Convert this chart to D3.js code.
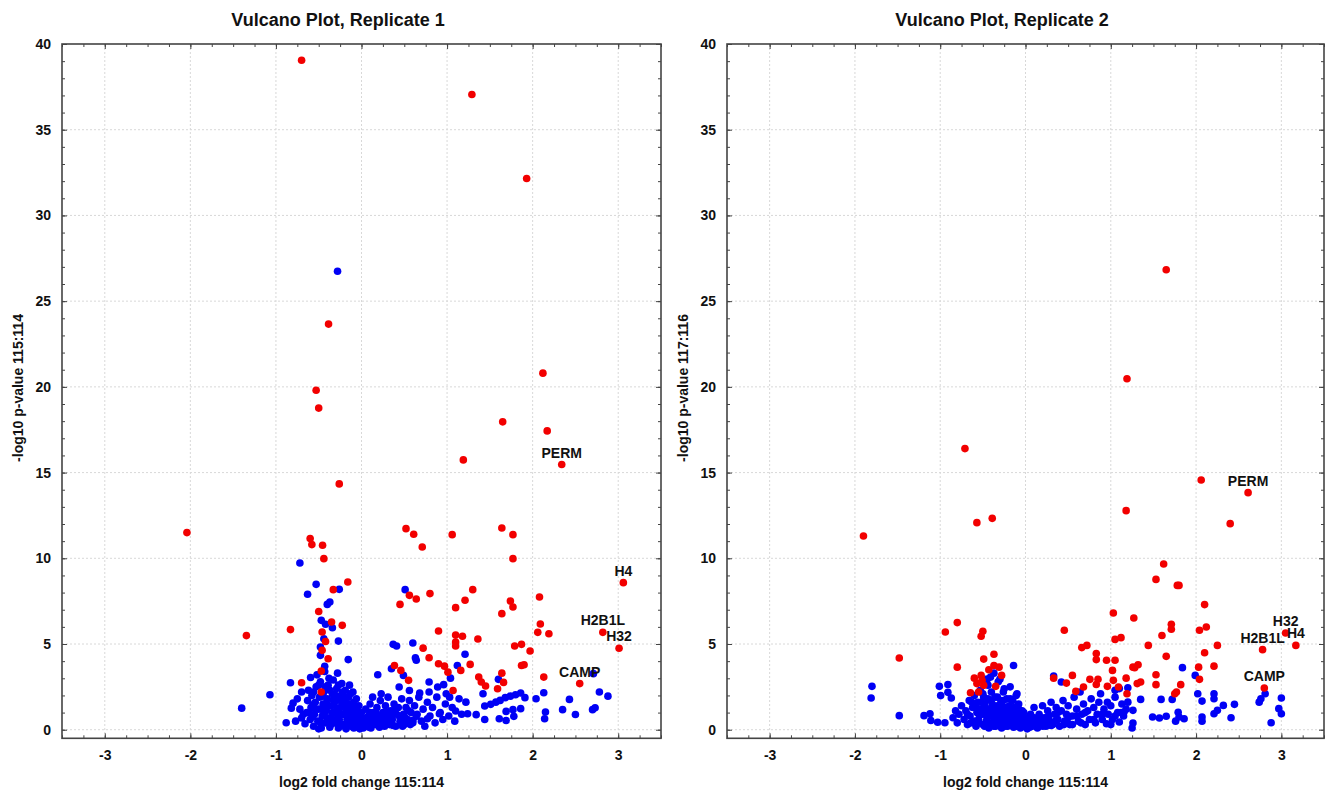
<!DOCTYPE html>
<html>
<head>
<meta charset="utf-8">
<script src="https://cdn.jsdelivr.net/npm/d3@7"></script>
<style>
  body { margin: 0; background: #fff; }
  text { font-family: "Liberation Sans", Arial, sans-serif; font-weight: bold; fill: #111; }
</style>
</head>
<body>
<svg id="chart" width="1326" height="792"></svg>
<script>
var xTicks = [-3, -2, -1, 0, 1, 2, 3]
var yTicks = [0, 5, 10, 15, 20, 25, 30, 35, 40]

// replicate 1 : [log2 fold change, -log10 p]
var blue1 = [
  [-1.40,1.26],[-1.07,2.04],[-0.83,2.74],[-0.80,1.55],[-0.82,1.26],[-0.70,0.68],[-0.88,0.41],
  [-0.28,26.74],
  [-0.72,9.73],[-0.53,8.48],[-0.63,7.9],[-0.26,8.19],[-0.40,7.31],[-0.37,7.45],[0.51,8.17],
  [-0.47,6.38],[-0.42,6.15],[-0.34,5.95],[-0.44,5.31],[-0.27,5.17],[-0.48,4.82],[-0.48,4.34],
  [0.37,4.98],[0.41,4.88],[0.60,5.06],[0.63,4.2],[0.64,4.05],[1.21,4.4],[1.12,3.75],[1.60,2.94],
  [-0.155,4.09],[-0.43,3.7],[-0.595,3.05],
  [0.19,3.21],[0.35,3.56],[0.49,3.17],[0.79,2.78],[0.96,2.63],[1.04,3.01],[1.42,2.1],
  [2.13,2.16],[2.04,1.81],[2.43,1.77],[2.78,2.2],[2.88,1.96],[2.71,3.27],[2.35,1.17],[2.50,0.89],
  [2.15,1.03],[2.14,0.64],[2.70,1.17],[2.73,1.28],[1.91,1.87],
  [1.86,2.14],[1.80,2.04],[1.74,1.96],[1.68,1.87],[1.62,1.71],[1.57,1.61],[1.51,1.48],[1.44,1.38],
  [1.86,1.23],[1.77,1.17],[1.69,1.07],[1.78,0.78],[1.69,0.54],[1.61,0.64],[1.44,0.6],
  [1.24,0.93],[1.34,0.88],[1.10,1.09],[1.22,1.61],[0.77,0.64],[0.64,0.78],[0.60,0.54],[0.91,0.93],
  [0.99,2.1],[1.03,1.9],[0.89,2.49],[0.79,2.2],[0.68,2.14],[0.56,2.29],[0.44,2.49],[0.23,2.1],[0.13,1.9],
  [-0.75,1.8],[-0.72,1.2],[-0.70,2.2],[-0.68,0.9],[-0.77,0.5],
  [-0.66,0.35],[-0.64,1.0],[-0.63,1.7],[-0.62,2.3],[-0.60,0.6],[-0.59,1.3],[-0.58,2.0],[-0.56,0.2],
  [-0.55,0.9],[-0.54,1.6],[-0.53,2.5],[-0.52,3.2],[-0.51,0.5],[-0.50,1.2],[-0.49,1.9],[-0.48,2.8],
  [-0.47,0.1],[-0.46,0.8],[-0.45,1.5],[-0.44,2.2],[-0.43,3.4],[-0.42,0.4],[-0.41,1.1],[-0.40,1.8],
  [-0.39,2.6],[-0.38,3.0],[-0.37,0.15],[-0.36,0.7],[-0.35,1.4],[-0.34,2.1],[-0.33,2.9],[-0.32,0.4],
  [-0.31,1.0],[-0.30,1.7],[-0.29,2.4],[-0.28,3.3],[-0.27,0.1],[-0.26,0.6],[-0.25,1.3],[-0.24,2.0],
  [-0.23,2.7],[-0.22,0.3],[-0.21,0.9],[-0.20,1.6],[-0.19,2.3],[-0.18,0.05],[-0.17,0.6],[-0.16,1.2],
  [-0.15,1.9],[-0.14,2.6],[-0.13,0.3],[-0.12,0.9],[-0.11,1.5],[-0.10,2.2],[-0.09,0.1],[-0.08,0.6],
  [-0.07,1.1],[-0.06,1.8],[-0.05,0.3],[-0.04,0.8],[-0.03,1.4],[-0.02,0.05],[-0.01,0.5],[0.00,1.0],
  [0.02,0.1],[0.03,0.5],[0.05,1.2],[0.06,0.25],[0.08,0.8],[0.10,1.5],[0.11,0.1],[0.13,0.5],
  [0.14,1.0],[0.16,0.3],[0.18,1.3],[0.19,0.7],[0.21,0.15],[0.22,1.7],[0.24,0.5],[0.25,1.0],
  [0.27,0.2],[0.28,1.4],[0.30,0.7],[0.31,1.9],[0.33,0.3],[0.34,1.1],[0.36,0.6],[0.38,1.5],
  [0.40,0.2],[0.41,0.9],[0.43,1.3],[0.45,0.5],[0.47,1.8],[0.49,0.9],[0.50,0.3],[0.52,1.3],
  [0.54,0.6],[0.56,1.7],[0.58,1.0],[0.60,0.4],[0.62,1.4],[0.65,0.9],[0.67,1.9],[0.70,0.5],
  [0.72,1.2],[0.74,0.2],[0.77,1.6],[0.80,0.8],[0.83,1.3],[0.86,0.4],[0.88,1.9],[0.92,1.0],
  [0.95,0.6],[0.98,1.5],[1.02,0.8],[1.06,1.3],[1.09,0.5],[1.14,1.8],[1.17,0.9],
  [-0.57,0.75],[-0.57,1.45],[-0.56,2.2],[-0.50,0.05],[-0.50,2.6],[-0.46,1.2],[-0.45,1.95],[-0.42,2.5],
  [-0.40,0.7],[-0.39,1.4],[-0.37,2.3],[-0.35,0.35],[-0.34,1.0],[-0.33,1.75],[-0.30,0.6],[-0.30,2.0],
  [-0.28,1.2],[-0.27,2.6],[-0.25,0.35],[-0.25,1.7],[-0.23,0.9],[-0.22,2.2],[-0.20,0.2],[-0.20,1.3],
  [-0.18,1.9],[-0.17,0.8],[-0.15,0.4],[-0.15,1.5],[-0.13,2.1],[-0.12,0.2],[-0.11,1.1],[-0.10,0.6],
  [-0.09,1.6],[-0.07,0.3],[-0.06,1.3],[-0.04,0.15],[-0.03,1.0],[-0.01,0.2],[0.01,0.7],[0.04,0.3],
  [0.07,0.5],[0.09,0.15],[0.10,1.0],[0.12,0.3],[0.15,0.7],[0.17,1.0],[0.20,0.4],[0.23,0.8],
  [0.26,0.35],[0.29,1.0],[0.32,0.5],[0.35,0.9],[0.37,0.25],[0.39,1.2],[0.44,0.8],[0.48,0.2],
  [0.51,0.7],[0.55,1.1],[0.57,0.3],[-0.62,1.0],[-0.55,1.25],[-0.48,0.45],[-0.44,0.95],[-0.41,1.55],
  [-0.38,0.55],[-0.32,1.45],[-0.26,0.95],[-0.22,1.55],[-0.16,0.55],[-0.14,1.2],[-0.08,0.85],[-0.05,0.6]
]
var red1 = [
  [-0.70,39.05],[1.29,37.05],[1.93,32.15],[-0.385,23.66],[2.12,20.8],[-0.53,19.8],[-0.50,18.76],
  [1.65,17.96],[2.17,17.43],[1.19,15.74],[2.34,15.47],[-0.26,14.34],
  [-2.04,11.5],[-1.345,5.49],
  [-0.60,11.15],[-0.58,10.8],[-0.455,10.76],[-0.44,9.98],[-0.16,8.62],[-0.33,8.17],[-0.50,6.9],
  [-0.35,6.28],[-0.225,6.09],[-0.83,5.84],[-0.46,5.70],[-0.42,5.15],[-0.46,4.63],[-0.39,4.14],
  [-0.47,3.42],[-0.70,2.74],[-0.47,2.2],
  [0.52,11.73],[0.61,11.4],[0.71,10.66],[1.06,11.38],[1.64,11.77],[1.77,11.38],[1.77,9.98],
  [0.56,7.84],[0.64,7.63],[0.45,7.31],[0.80,7.94],[1.10,7.12],[1.21,7.55],[1.30,8.17],[1.74,7.51],
  [1.77,7.16],[1.64,6.77],[2.08,7.74],[2.09,6.17],[2.06,5.68],[2.19,5.6],
  [0.90,5.76],[1.10,5.52],[1.18,5.45],[1.10,5.12],[1.10,4.88],[1.36,5.29],[0.72,4.76],[0.79,4.2],
  [0.90,3.85],[0.97,3.71],[1.01,3.36],[1.16,3.46],[1.27,3.81],[0.385,3.75],[0.46,3.46],[0.55,2.88],
  [1.07,2.29],[1.37,3.07],[1.40,2.78],[1.45,2.55],[1.59,2.39],[1.64,3.3],[1.66,2.76],[1.79,4.88],
  [1.87,4.98],[1.97,4.59],[1.87,3.75],[1.90,3.79],[2.13,3.07],[2.55,2.69],
  [3.06,8.58],[2.82,5.68],[3.01,4.75]
]
var labels1 = [
  { gene: 'PERM', x: 2.34, y: 15.47 },
  { gene: 'H4', x: 3.06, y: 8.58 },
  { gene: 'H2B1L', x: 2.82, y: 5.68 },
  { gene: 'H32', x: 3.01, y: 4.75 },
  { gene: 'CAMP', x: 2.55, y: 2.69 }
]

// replicate 2
var blue2 = [
  [-1.80,2.53],[-1.81,1.85],[-1.48,0.82],
  [-1.01,2.53],[-0.91,2.64],[-0.995,1.99],[-0.91,2.18],[-0.87,1.85],
  [-1.19,0.82],[-1.12,0.93],[-1.11,0.54],[-1.03,0.44],[-0.945,0.41],
  [-0.14,3.75],[0.33,3.13],[0.42,2.78],[-0.10,2.1],[-0.25,2.39],
  [-0.41,3.07],[-0.37,3.3],[-0.45,2.95],[-0.30,2.95],
  [1.10,2.4],[1.05,2.3],[1.20,2.45],
  [1.35,1.77],[1.59,1.77],[1.72,1.77],[1.84,3.62],[1.99,3.17],[2.02,2.1],[2.07,1.67],[2.21,2.1],[2.21,1.81],
  [2.32,1.42],[2.25,1.13],[2.21,0.93],[2.45,1.48],[2.41,0.7],[2.74,1.61],[2.76,1.81],[2.81,2.1],
  [3.00,1.85],[2.97,1.23],[3.00,0.93],[2.88,0.41],
  [2.07,0.74],[2.07,0.5],[1.49,0.74],[1.57,0.68],[1.65,0.79],[1.76,0.5],[1.80,0.74],[1.86,0.64],[1.79,1.02],
  [1.26,0.39],[1.25,0.1],[1.26,1.13],[1.155,1.03],[1.20,1.61],
  [-0.85,0.7],[-0.82,1.1],[-0.80,0.4],[-0.78,0.9],[-0.75,1.4],[-0.72,0.6],[-0.70,1.1],[-0.68,0.3],
  [-0.66,1.7],[-0.65,0.8],[-0.62,1.3],[-0.60,0.5],[-0.60,2.0],
  [-0.58,0.2],[-0.57,1.0],[-0.56,1.6],[-0.55,0.6],[-0.53,2.3],[-0.52,1.2],[-0.50,0.3],[-0.50,0.9],
  [-0.49,1.9],[-0.48,1.5],[-0.46,0.5],[-0.45,1.1],[-0.44,2.6],[-0.43,0.1],[-0.42,0.8],[-0.41,1.7],
  [-0.40,1.3],[-0.40,2.2],
  [-0.38,0.4],[-0.37,1.0],[-0.36,1.9],[-0.35,0.2],[-0.34,0.7],[-0.33,1.4],[-0.32,2.8],[-0.31,1.1],
  [-0.30,0.4],[-0.29,1.7],[-0.28,0.1],[-0.27,0.8],[-0.26,2.2],[-0.25,1.3],[-0.24,0.5],[-0.23,1.0],
  [-0.22,1.8],[-0.21,0.2],[-0.20,0.7],
  [-0.19,1.4],[-0.18,2.5],[-0.17,0.4],[-0.16,1.0],[-0.15,1.7],[-0.14,0.15],[-0.13,0.6],[-0.12,1.2],
  [-0.11,2.0],[-0.10,0.35],[-0.09,0.9],[-0.08,1.5],[-0.06,0.1],[-0.05,0.5],[-0.04,1.1],[-0.02,0.2],[-0.01,0.7],
  [0.02,0.05],[0.04,0.4],[0.06,0.9],[0.08,0.2],[0.10,1.3],[0.12,0.55],[0.14,0.1],[0.16,0.9],
  [0.18,0.35],[0.20,1.4],[0.22,0.7],[0.24,0.2],[0.26,1.1],[0.28,0.5],[0.30,1.6],[0.32,0.3],
  [0.34,0.9],[0.36,1.3],[0.38,0.6],[0.40,0.2],[0.42,1.1],[0.44,1.7],[0.46,0.5],[0.48,0.9],
  [0.50,1.4],[0.52,0.3],[0.55,0.8],[0.57,1.9],[0.60,1.2],[0.62,0.5],[0.64,2.2],[0.66,0.9],
  [0.68,1.5],[0.70,0.3],[0.73,1.1],[0.75,0.6],[0.77,1.8],[0.80,1.3],[0.82,0.4],[0.84,0.9],
  [0.86,1.6],[0.88,2.1],[0.90,0.6],[0.92,1.2],[0.95,0.35],[0.97,0.9],[1.00,1.4],[1.02,0.6],
  [1.05,1.9],[1.08,1.0],[1.10,0.45],[1.13,1.5],[1.15,0.8],[1.18,1.2],
  [-0.68,0.9],[-0.64,0.4],[-0.63,1.6],[-0.58,1.3],[-0.56,0.4],[-0.54,0.85],[-0.52,1.6],[-0.50,2.1],
  [-0.48,0.2],[-0.47,1.2],[-0.45,0.7],[-0.44,1.8],[-0.42,0.4],[-0.40,1.0],[-0.39,1.5],[-0.37,0.2],
  [-0.36,0.6],[-0.35,1.2],[-0.33,1.9],[-0.32,0.3],[-0.31,0.9],[-0.30,1.4],[-0.28,0.6],[-0.27,1.1],
  [-0.26,1.7],[-0.24,0.2],[-0.23,0.8],[-0.22,1.3],[-0.20,0.4],[-0.19,1.0],[-0.18,1.8],[-0.16,0.3],
  [-0.15,0.7],[-0.13,1.3],[-0.12,0.2],[-0.11,0.8],[-0.09,0.4],[-0.08,1.2],[-0.07,0.7],[-0.05,0.2],
  [-0.03,0.5],[-0.02,1.0],[0.00,0.3],[0.03,0.6],[0.05,0.15],[0.07,0.45],[0.10,0.7],[0.13,0.3],
  [0.17,0.55],[0.20,0.2],[0.23,0.45],[0.27,0.8],[0.30,0.25],[0.35,0.5],[0.38,1.0],[0.45,0.3],
  [0.50,0.7],[0.55,0.3],[0.60,0.8],[0.65,0.4],[0.70,1.0],[0.80,0.6],[0.90,0.9],[1.00,0.3],
  [1.05,0.8],[1.12,1.0],[0.96,1.6]
]
var red2 = [
  [-1.90,11.3],[-0.57,12.08],[-0.39,12.33],[1.18,12.78],[2.40,12.02],[1.65,26.83],[1.19,20.47],
  [-0.71,16.4],[2.06,14.57],[2.61,13.83],
  [1.62,9.67],[1.53,8.77],[1.78,8.42],[1.80,8.42],[2.10,7.3],[1.03,6.81],[1.27,6.52],[0.455,5.8],
  [1.71,6.15],[1.71,5.86],[2.04,5.8],[2.12,5.99],[1.60,5.5],[1.05,5.27],[1.12,5.37],[0.66,4.79],
  [0.72,4.92],[1.44,4.92],[2.25,4.92],[2.10,4.49],[1.65,4.28],[0.83,4.44],[0.83,4.09],
  [0.95,4.05],[1.05,4.05],[1.26,3.65],[1.32,3.79],[1.02,3.46],[2.03,3.65],[2.21,3.71],
  [-1.48,4.18],[-0.94,5.7],[-0.80,6.25],[-0.50,5.74],[-0.52,5.45],[-0.80,3.65],[-0.49,4.12],[-0.37,4.4],
  [-0.43,3.5],[-0.37,3.75],[-0.31,3.65],[-0.28,3.17],[-0.60,3.01],[-0.52,3.17],[-0.51,2.88],
  [-0.57,2.69],[-0.49,2.59],[-0.645,2.16],[-0.55,2.2],[-0.35,2.53],
  [0.48,2.72],[0.59,2.24],[0.68,2.49],[0.755,2.94],[0.85,2.94],[0.83,2.64],[0.96,2.53],[1.03,2.88],
  [1.18,3.01],[1.28,3.62],[1.35,2.78],[1.31,2.69],
  [0.33,3.01],[0.55,3.17],
  [1.53,3.21],[1.53,2.63],[1.82,2.63],[1.77,2.2],[1.75,2.1],[2.04,2.94],[1.19,2.1],[1.09,2.49],
  [2.80,2.43],[2.78,4.67],[3.05,5.64],[3.17,4.92]
]
var labels2 = [
  { gene: 'PERM', x: 2.61, y: 13.83 },
  { gene: 'H32', x: 3.05, y: 5.64 },
  { gene: 'H2B1L', x: 2.78, y: 4.67 },
  { gene: 'H4', x: 3.17, y: 4.92 },
  { gene: 'CAMP', x: 2.80, y: 2.43 }
]

var panels = [
  { title: 'Vulcano Plot, Replicate 1', xTitle: 'log2 fold change 115:114', yTitle: '-log10 p-value 115:114',
    left: 62, right: 661, titleX: 338, yTitleX: 18, blue: blue1, red: red1, labels: labels1 },
  { title: 'Vulcano Plot, Replicate 2', xTitle: 'log2 fold change 115:114', yTitle: '-log10 p-value 117:116',
    left: 727, right: 1324, titleX: 1002, yTitleX: 683, blue: blue2, red: red2, labels: labels2 }
]

var plotTop = 44, plotBottom = 738.3
var svg = d3.select('#chart')

var xMinor = d3.range(-3.5, 3.501, 0.25)
var yMinor = d3.range(0, 40.01, 1)

panels.forEach(function (p) {
  var x = d3.scaleLinear().domain([-3.5, 3.5]).range([p.left, p.right])
  var y = d3.scaleLinear().domain([-0.5, 40]).range([plotBottom, plotTop])
  var g = svg.append('g')

  // grid
  g.append('g').selectAll('line').data(xTicks).enter().append('line')
    .attr('x1', d => x(d)).attr('x2', d => x(d)).attr('y1', plotTop).attr('y2', plotBottom)
    .attr('stroke', '#d8d8d8').attr('stroke-dasharray', '2,2')
  g.append('g').selectAll('line').data(yTicks.filter(d => d < 40)).enter().append('line')
    .attr('y1', d => y(d)).attr('y2', d => y(d)).attr('x1', p.left).attr('x2', p.right)
    .attr('stroke', '#d8d8d8').attr('stroke-dasharray', '2,2')

  // axes, ticks pointing inward on all four sides
  function addAxis (axis, tx, ty, values, size, labels) {
    var a = g.append('g').attr('transform', 'translate(' + tx + ',' + ty + ')')
      .call(axis.tickValues(values).tickSize(size).tickPadding(labels ? 12 : 0)
        .tickFormat(labels ? function (d) { return String(d) } : ''))
    a.select('.domain').remove()
    a.selectAll('line').attr('stroke', '#444')
    a.selectAll('text').attr('font-size', 14).attr('fill', '#111').attr('font-family', null)
    return a
  }
  addAxis(d3.axisBottom(x), 0, plotBottom, xMinor, -3, false)
  addAxis(d3.axisBottom(x), 0, plotBottom, xTicks, -5, true)
  addAxis(d3.axisTop(x), 0, plotTop, xMinor, -3, false)
  addAxis(d3.axisTop(x), 0, plotTop, xTicks, -5, false)
  addAxis(d3.axisLeft(y), p.left, 0, yMinor, -3, false)
  addAxis(d3.axisLeft(y), p.left, 0, yTicks, -5, true).selectAll('text').attr('dx', '1')
  addAxis(d3.axisRight(y), p.right, 0, yMinor, -3, false)
  addAxis(d3.axisRight(y), p.right, 0, yTicks, -5, false)

  g.append('rect').attr('x', p.left).attr('y', plotTop)
    .attr('width', p.right - p.left).attr('height', plotBottom - plotTop)
    .attr('fill', 'none').attr('stroke', '#444').attr('stroke-width', 1.6)

  // points
  g.append('g').selectAll('circle').data(p.blue).enter().append('circle')
    .attr('cx', d => x(d[0])).attr('cy', d => y(d[1])).attr('r', 3.8).attr('fill', '#0000f5')
  g.append('g').selectAll('circle').data(p.red).enter().append('circle')
    .attr('cx', d => x(d[0])).attr('cy', d => y(d[1])).attr('r', 3.8).attr('fill', '#f20000')

  // gene labels
  g.append('g').selectAll('text').data(p.labels).enter().append('text')
    .attr('x', d => x(d.x)).attr('y', d => y(d.y) - 7)
    .attr('text-anchor', 'middle').attr('font-size', 14)
    .text(d => d.gene)

  // titles
  g.append('text').attr('x', p.titleX).attr('y', 26).attr('text-anchor', 'middle')
    .attr('font-size', 18).text(p.title)
  g.append('text').attr('x', (p.left + p.right) / 2).attr('y', 787).attr('text-anchor', 'middle')
    .attr('font-size', 14).text(p.xTitle)
  g.append('text').attr('transform', 'translate(' + (p.yTitleX + 5) + ',' + 388 + ') rotate(-90)')
    .attr('text-anchor', 'middle').attr('font-size', 14).text(p.yTitle)
})
</script>
</body>
</html>
